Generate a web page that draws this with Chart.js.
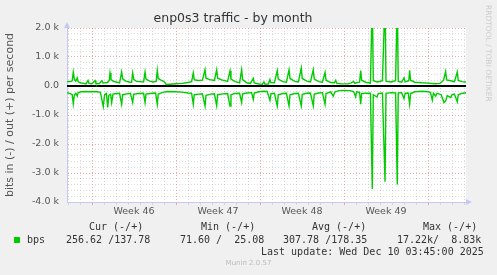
<!DOCTYPE html>
<html>
<head>
<meta charset="utf-8">
<script src="https://cdn.jsdelivr.net/npm/chart.js@4.4.0/dist/chart.umd.min.js"></script>
<style>
body { margin: 0; background: #f0f0f0; }
#wrap { position: relative; width: 497px; height: 275px; overflow: hidden; background: #f0f0f0; }
#graph { position: absolute; left: 0; top: 0; }
.mono { position: absolute; font-family: "DejaVu Sans Mono", monospace; font-size: 10px; line-height: 12px; color: #333; white-space: pre; }
#swatch { position: absolute; left: 14px; top: 237px; width: 6px; height: 6px; background: #00cc00; }
#munin { position: absolute; left: 0; width: 497px; top: 259px; text-align: center; font-family: "DejaVu Sans", sans-serif; font-size: 7px; color: #bbb; }
#rrd { position: absolute; left: 493px; top: 5px; transform: rotate(90deg); transform-origin: 0 0; font-family: "DejaVu Sans", sans-serif; font-size: 7.5px; line-height: 9px; color: #ccc; white-space: nowrap; }
</style>
</head>
<body>
<div id="wrap">
  <canvas id="graph" width="497" height="275"></canvas>
  <div id="rrd">RRDTOOL / TOBI OETIKER</div>
  <div class="mono" style="left:89px;top:221px">Cur (-/+)</div>
  <div class="mono" style="left:201px;top:221px">Min (-/+)</div>
  <div class="mono" style="left:312px;top:221px">Avg (-/+)</div>
  <div class="mono" style="left:423px;top:221px">Max (-/+)</div>
  <div id="swatch"></div>
  <div class="mono" style="left:27px;top:234px">bps</div>
  <div class="mono" style="left:66px;top:234px">256.62 /137.78</div>
  <div class="mono" style="left:180px;top:234px">71.60 /  25.08</div>
  <div class="mono" style="left:283px;top:234px">307.78 /178.35</div>
  <div class="mono" style="left:397px;top:234px">17.22k/  8.83k</div>
  <div class="mono" style="left:261px;top:246px">Last update: Wed Dec 10 03:45:00 2025</div>
  <div id="munin">Munin 2.0.57</div>
</div>
<script>
// Axis labels
const yTickValues = [2000, 1000, 0, -1000, -2000, -3000, -4000];
const yTickLabels = ['2.0 k', '1.0 k', '0.0', '-1.0 k', '-2.0 k', '-3.0 k', '-4.0 k'];
const weekCenters = [3.5, 10.5, 17.5, 24.5];      // days after Monday of week 46
const weekLabels = ['Week 46', 'Week 47', 'Week 48', 'Week 49'];

// Samples: [day, bits per second]
// out (+)
const outSamples = [
  [-2.08, 150], [-1.8, 150], [-1.65, 180], [-1.56, 480], [-1.47, 230], [-1.35, 170], [-1.23, 280], [-1.15, 150],
  [-1.0, 110], [-0.7, 90], [-0.5, 70], [-0.33, 190], [-0.25, 90], [0.0, 80], [0.25, 190], [0.33, 90],
  [0.6, 80], [0.83, 180], [0.92, 100], [1.3, 120], [1.44, 200], [1.5, 450], [1.58, 220], [1.8, 160],
  [2.1, 130], [2.3, 110], [2.47, 480], [2.56, 250], [2.8, 170], [3.1, 140], [3.3, 130], [3.39, 450],
  [3.48, 230], [3.7, 160], [4.0, 150], [4.3, 140], [4.42, 480], [4.5, 240], [4.8, 170], [5.1, 140],
  [5.35, 160], [5.44, 540], [5.52, 260], [5.8, 190], [6.0, 150], [6.2, 50], [6.5, 60], [7.0, 80],
  [7.5, 90], [8.0, 120], [8.3, 150], [8.44, 450], [8.52, 220], [8.8, 190], [9.2, 200], [9.42, 560],
  [9.5, 270], [9.8, 220], [10.2, 190], [10.39, 560], [10.47, 270], [10.8, 210], [11.3, 160], [11.5, 520],
  [11.58, 240], [11.9, 160], [12.3, 110], [12.47, 560], [12.55, 220], [12.9, 110], [13.2, 90], [13.44, 260],
  [13.52, 110], [13.9, 70], [14.2, 60], [14.33, 140], [14.42, 60], [14.7, 70], [14.83, 220], [14.9, 120],
  [15.2, 110], [15.44, 530], [15.52, 240], [15.9, 150], [16.2, 130], [16.42, 560], [16.5, 260], [16.9, 160],
  [17.2, 140], [17.44, 620], [17.52, 260], [17.9, 170], [18.2, 140], [18.44, 560], [18.52, 240], [18.9, 150],
  [19.2, 130], [19.42, 470], [19.5, 200], [19.9, 120], [20.2, 110], [20.31, 200], [20.4, 90], [20.8, 75],
  [21.3, 75], [21.6, 110], [21.8, 160], [21.9, 90], [22.1, 120], [22.3, 130], [22.39, 530], [22.47, 200],
  [22.8, 130], [23.2, 100], [23.36, 3000], [23.44, 180], [23.8, 140], [24.2, 180], [24.42, 3000], [24.5, 170],
  [24.9, 140], [25.3, 180], [25.44, 3000], [25.52, 160], [25.8, 130], [26.0, 280], [26.1, 140], [26.4, 180],
  [26.47, 540], [26.55, 200], [26.9, 130], [27.5, 110], [28.0, 100], [28.6, 80], [29.0, 90], [29.3, 200],
  [29.47, 500], [29.55, 210], [29.9, 180], [30.2, 150], [30.44, 480], [30.52, 190], [30.8, 150], [31.17, 140]
];
// in (-), drawn below zero
const inSamples = [
  [-2.08, -230], [-1.8, -260], [-1.65, -300], [-1.56, -610], [-1.47, -300], [-1.35, -250], [-1.23, -350], [-1.15, -230],
  [-0.9, -200], [-0.6, -190], [-0.3, -200], [0.0, -190], [0.4, -200], [0.7, -220], [0.94, -710], [1.05, -300],
  [1.2, -260], [1.31, -740], [1.4, -320], [1.55, -280], [1.64, -570], [1.75, -280], [2.1, -260], [2.3, -250],
  [2.47, -630], [2.56, -300], [2.9, -270], [3.2, -250], [3.39, -570], [3.48, -280], [3.9, -260], [4.3, -250],
  [4.42, -570], [4.5, -280], [5.0, -250], [5.3, -240], [5.44, -630], [5.52, -280], [5.9, -220], [6.3, -190],
  [7.0, -200], [7.5, -210], [8.0, -240], [8.3, -250], [8.44, -630], [8.52, -300], [8.9, -280], [9.2, -270],
  [9.42, -690], [9.5, -320], [9.9, -280], [10.2, -270], [10.39, -680], [10.47, -300], [10.9, -270], [11.3, -260],
  [11.5, -690], [11.58, -300], [11.9, -260], [12.3, -250], [12.47, -570], [12.55, -270], [12.9, -240], [13.3, -230],
  [13.44, -460], [13.52, -240], [13.9, -200], [14.3, -180], [14.6, -190], [14.83, -490], [14.92, -260], [15.2, -250],
  [15.44, -690], [15.52, -300], [15.9, -260], [16.2, -250], [16.42, -690], [16.5, -300], [16.9, -260], [17.2, -250],
  [17.44, -690], [17.52, -290], [17.9, -250], [18.2, -240], [18.44, -680], [18.52, -280], [18.9, -240], [19.2, -230],
  [19.42, -630], [19.5, -260], [19.9, -200], [20.1, -350], [20.25, -200], [20.6, -160], [21.0, -150], [21.5, -160],
  [21.8, -190], [21.97, -370], [22.05, -200], [22.3, -220], [22.39, -630], [22.47, -260], [22.8, -250], [23.2, -250],
  [23.36, -3550], [23.44, -300], [23.75, -380], [23.85, -260], [24.2, -240], [24.42, -3300], [24.5, -250], [24.9, -230],
  [25.3, -240], [25.44, -3400], [25.52, -240], [25.8, -230], [26.0, -435], [26.1, -250], [26.35, -240], [26.47, -630],
  [26.55, -260], [26.9, -200], [27.5, -180], [28.0, -200], [28.2, -220], [28.36, -490], [28.45, -250], [28.64, -350],
  [28.75, -250], [29.1, -300], [29.33, -570], [29.47, -520], [29.6, -330], [29.89, -400], [30.0, -300], [30.2, -280],
  [30.44, -550], [30.52, -300], [30.8, -260], [31.17, -230]
];

const GREEN = '#00cc00';
const MAJOR = 'rgba(225, 110, 110, 0.6)';
const MINOR = 'rgba(170, 170, 170, 0.4)';
const AXIS = '#c8c8f4';
const X_MIN = -25 / 12, X_MAX = X_MIN + 399 / 12;

// fond blanc, ligne zéro et flèches des axes
const muninLook = {
  id: 'muninLook',
  beforeDraw(chart) {
    const { ctx, chartArea: a } = chart;
    ctx.save();
    ctx.fillStyle = '#ffffff';
    ctx.fillRect(a.left, a.top, a.right - a.left, a.bottom - a.top);
    ctx.restore();
  },
  beforeDatasetsDraw(chart) {
    const { ctx, chartArea: a, scales } = chart;
    const y0 = Math.round(scales.y.getPixelForValue(0));
    ctx.save();
    ctx.strokeStyle = '#000';
    ctx.lineWidth = 2;
    ctx.beginPath();
    ctx.moveTo(a.left, y0);
    ctx.lineTo(a.right, y0);
    ctx.stroke();
    ctx.restore();
  },
  afterDraw(chart) {
    const { ctx, chartArea: a } = chart;
    ctx.save();
    ctx.fillStyle = AXIS;
    ctx.beginPath();
    ctx.moveTo(a.left, a.top - 6);
    ctx.lineTo(a.left - 3, a.top);
    ctx.lineTo(a.left + 3, a.top);
    ctx.fill();
    ctx.beginPath();
    ctx.moveTo(a.right + 6, a.bottom);
    ctx.lineTo(a.right, a.bottom - 3);
    ctx.lineTo(a.right, a.bottom + 3);
    ctx.fill();
    ctx.restore();
  }
};

const xTicks = [];
for (let d = -2; d <= 31; d++) xTicks.push(d);
const yTicks = [];
for (let v = -4000; v <= 2000; v += 200) yTicks.push(v);

const font = { family: '"DejaVu Sans", sans-serif', size: 9.5 };

new Chart(document.getElementById('graph'), {
  type: 'line',
  data: {
    datasets: [
      { label: 'out', data: outSamples.map(p => ({ x: p[0], y: p[1] })) },
      { label: 'in', data: inSamples.map(p => ({ x: p[0], y: p[1] })) }
    ].map(ds => Object.assign(ds, {
      borderColor: GREEN, borderWidth: 1.4, pointRadius: 0, tension: 0, fill: false
    }))
  },
  options: {
    responsive: false,
    animation: false,
    layout: { padding: { left: 0, right: 31, top: 0, bottom: 47 } },
    plugins: {
      legend: { display: false },
      tooltip: { enabled: false },
      title: {
        display: true,
        text: 'enp0s3 traffic - by month',
        color: '#333',
        font: { family: '"DejaVu Sans", sans-serif', size: 12.5, weight: 'normal' },
        padding: { top: 11, bottom: 2 }
      }
    },
    scales: {
      x: {
        type: 'linear',
        min: X_MIN,
        max: X_MAX,
        afterBuildTicks: s => { s.ticks = xTicks.concat(weekCenters).sort((a, b) => a - b).map(v => ({ value: v })); },
        afterFit: s => { s.height = 26; },
        ticks: {
          autoSkip: false, maxRotation: 0, padding: 1, color: '#555', font,
          callback: v => { const i = weekCenters.indexOf(v); return i >= 0 ? weekLabels[i] : ''; }
        },
        grid: {
          tickLength: 3,
          color: c => weekCenters.includes(c.tick.value) ? 'rgba(0,0,0,0)' : (c.tick.value % 7 === 0 ? MAJOR : MINOR),
          tickColor: c => weekCenters.includes(c.tick.value) ? 'rgba(0,0,0,0)' : (c.tick.value % 7 === 0 ? MAJOR : MINOR)
        },
        border: { color: AXIS, dash: [1, 2] }
      },
      y: {
        type: 'linear',
        min: -4000,
        max: 2000,
        afterBuildTicks: s => { s.ticks = yTicks.map(v => ({ value: v })); },
        afterFit: s => { s.width = 67; },
        title: {
          display: true,
          text: 'bits in (-) / out (+) per second',
          color: '#555',
          font: { family: '"DejaVu Sans", sans-serif', size: 11 },
          padding: { top: 4, bottom: 0 }
        },
        ticks: {
          autoSkip: false, padding: 4, color: '#555', font,
          callback: v => { const i = yTickValues.indexOf(v); return i >= 0 ? yTickLabels[i] : ''; }
        },
        grid: {
          tickLength: 4,
          color: c => c.tick.value % 1000 === 0 ? MAJOR : MINOR,
          tickColor: 'rgba(0,0,0,0)'
        },
        border: { color: AXIS, dash: [1, 2] }
      }
    }
  },
  plugins: [muninLook]
});
</script>
</body>
</html>
